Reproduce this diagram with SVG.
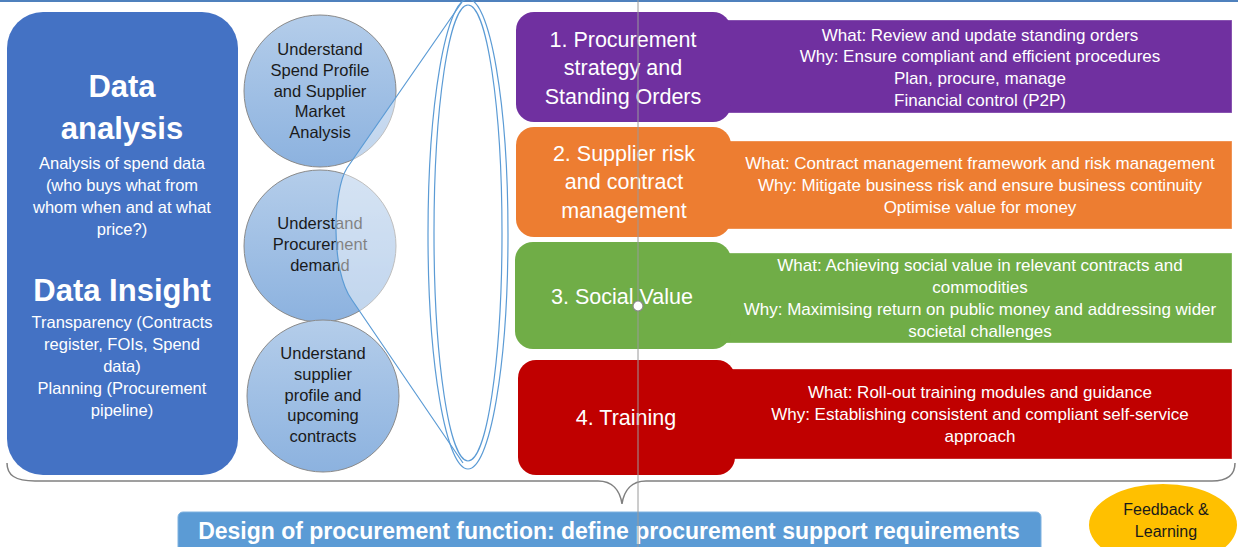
<svg xmlns="http://www.w3.org/2000/svg" width="1238" height="547" viewBox="0 0 1238 547">
<defs>
<linearGradient id="circGrad" x1="0" y1="0" x2="0" y2="1">
<stop offset="0" stop-color="#b4cdea"/>
<stop offset="1" stop-color="#8cb2df"/>
</linearGradient>
<style>
text{font-family:"Liberation Sans",Arial,sans-serif;text-anchor:middle}
.w{fill:#ffffff}
.k{fill:#1a1a1a}
.title{font-size:31px;font-weight:bold}
.small{font-size:16.5px}
.desc{font-size:17px}
.head{font-size:21.5px}
.circ{fill:url(#circGrad);stroke:#8a8a8a;stroke-width:1}
.lens{fill:none;stroke:#5b9bd5;stroke-width:1.2}
.band{stroke:#ffffff;stroke-opacity:0.35;stroke-width:1}
</style>
</defs>
<rect x="0" y="0" width="1238" height="547" fill="#ffffff"/>
<line x1="0" y1="1" x2="1238" y2="1" stroke="#4f81bd" stroke-width="2"/>

<g id="data-box">
<rect x="7" y="12" width="231" height="463" rx="36" fill="#4472c4"/>
<text class="w title" x="122" y="97">Data</text>
<text class="w title" x="122" y="139">analysis</text>
<text class="w small" x="122" y="169">Analysis of spend data</text>
<text class="w small" x="122" y="191">(who buys what from</text>
<text class="w small" x="122" y="213">whom when and at what</text>
<text class="w small" x="122" y="235">price?)</text>
<text class="w title" x="122" y="301">Data Insight</text>
<text class="w small" x="122" y="328">Transparency (Contracts</text>
<text class="w small" x="122" y="350">register, FOIs, Spend</text>
<text class="w small" x="122" y="372">data)</text>
<text class="w small" x="122" y="394">Planning (Procurement</text>
<text class="w small" x="122" y="416">pipeline)</text>
</g>

<g id="circle-spend">
<circle class="circ" cx="320" cy="91" r="76"/>
<text class="k small" x="320" y="55">Understand</text>
<text class="k small" x="320" y="76">Spend Profile</text>
<text class="k small" x="320" y="97">and Supplier</text>
<text class="k small" x="320" y="117">Market</text>
<text class="k small" x="320" y="138">Analysis</text>
</g>
<g id="circle-demand">
<circle class="circ" cx="320" cy="246" r="76"/>
<text class="k small" x="320" y="229">Understand</text>
<text class="k small" x="320" y="250">Procurement</text>
<text class="k small" x="320" y="271">demand</text>
</g>
<g id="circle-supplier">
<circle class="circ" cx="323" cy="396" r="76"/>
<text class="k small" x="323" y="359">Understand</text>
<text class="k small" x="323" y="380">supplier</text>
<text class="k small" x="323" y="401">profile and</text>
<text class="k small" x="323" y="421">upcoming</text>
<text class="k small" x="323" y="442">contracts</text>
</g>

<g id="lens">
<path d="M462,2 L347,168 C333,190 330,270 352,300 L463,463 Z" fill="#ffffff" fill-opacity="0.45" stroke="none"/>
<path d="M462,2 L347,168 C333,190 330,270 352,300 L463,463" fill="none" stroke="#5b9bd5" stroke-width="1.2"/>
<ellipse class="lens" cx="468" cy="234" rx="40" ry="235"/>
<ellipse class="lens" cx="468" cy="233" rx="34" ry="228"/>
</g>

<g id="item-1">
<rect class="band" x="700" y="20" width="532" height="93" fill="#7030a0"/>
<rect x="516" y="12" width="215" height="110" rx="18" fill="#7030a0"/>
<text class="w head" x="623" y="47">1. Procurement</text>
<text class="w head" x="623" y="75">strategy and</text>
<text class="w head" x="623" y="104">Standing Orders</text>
<text class="w desc" x="980" y="41">What: Review and update standing orders</text>
<text class="w desc" x="980" y="62">Why: Ensure compliant and efficient procedures</text>
<text class="w desc" x="980" y="84">Plan, procure, manage</text>
<text class="w desc" x="980" y="106">Financial control (P2P)</text>
</g>

<g id="item-2">
<rect class="band" x="700" y="141" width="532" height="88" fill="#ed7d31"/>
<rect x="516" y="127" width="215" height="110" rx="18" fill="#ed7d31"/>
<text class="w head" x="624" y="161">2. Supplier risk</text>
<text class="w head" x="624" y="189">and contract</text>
<text class="w head" x="624" y="218">management</text>
<text class="w desc" x="980" y="169">What: Contract management framework and risk management</text>
<text class="w desc" x="980" y="191">Why: Mitigate business risk and ensure business continuity</text>
<text class="w desc" x="980" y="213">Optimise value for money</text>
</g>

<g id="item-3">
<rect class="band" x="700" y="253" width="532" height="90" fill="#70ad47"/>
<rect x="515" y="242" width="216" height="107" rx="18" fill="#70ad47"/>
<text class="w head" x="622" y="304">3. Social Value</text>
<text class="w desc" x="980" y="271">What: Achieving social value in relevant contracts and</text>
<text class="w desc" x="980" y="293">commodities</text>
<text class="w desc" x="980" y="315">Why: Maximising return on public money and addressing wider</text>
<text class="w desc" x="980" y="337">societal challenges</text>
</g>

<g id="item-4">
<rect class="band" x="700" y="369" width="532" height="90" fill="#c00000"/>
<rect x="518" y="360" width="217" height="115" rx="18" fill="#c00000"/>
<text class="w head" x="626" y="425">4. Training</text>
<text class="w desc" x="980" y="398">What: Roll-out training modules and guidance</text>
<text class="w desc" x="980" y="420">Why: Establishing consistent and compliant self-service</text>
<text class="w desc" x="980" y="442">approach</text>
</g>

<g id="connectors">
<path d="M7,463 C7,475 15,481 35,481 L598,481 C612,481 620,490 622,504 C624,490 632,481 646,481 L1212,481 C1228,481 1235,475 1235,463" fill="none" stroke="#808080" stroke-width="1.5"/>
</g>

<g id="design-bar">
<rect x="178" y="512" width="863" height="45" rx="5" fill="#5b9bd5" stroke="#7fb2e0" stroke-width="1"/>
<text class="w" x="609" y="539" font-size="23px" font-weight="bold">Design of procurement function: define procurement support requirements</text>
</g>

<g id="feedback">
<ellipse cx="1163" cy="525" rx="74" ry="41" fill="#ffc000"/>
<text class="k" x="1166" y="515" font-size="16px">Feedback &amp;</text>
<text class="k" x="1166" y="537" font-size="16px">Learning</text>
</g>

<g id="guide">
<line x1="638" y1="0" x2="638" y2="547" stroke="#9a9a9a" stroke-width="1"/>
<circle cx="638" cy="306" r="5" fill="#ffffff" stroke="#8a8a8a" stroke-width="1.2"/>
</g>
</svg>
